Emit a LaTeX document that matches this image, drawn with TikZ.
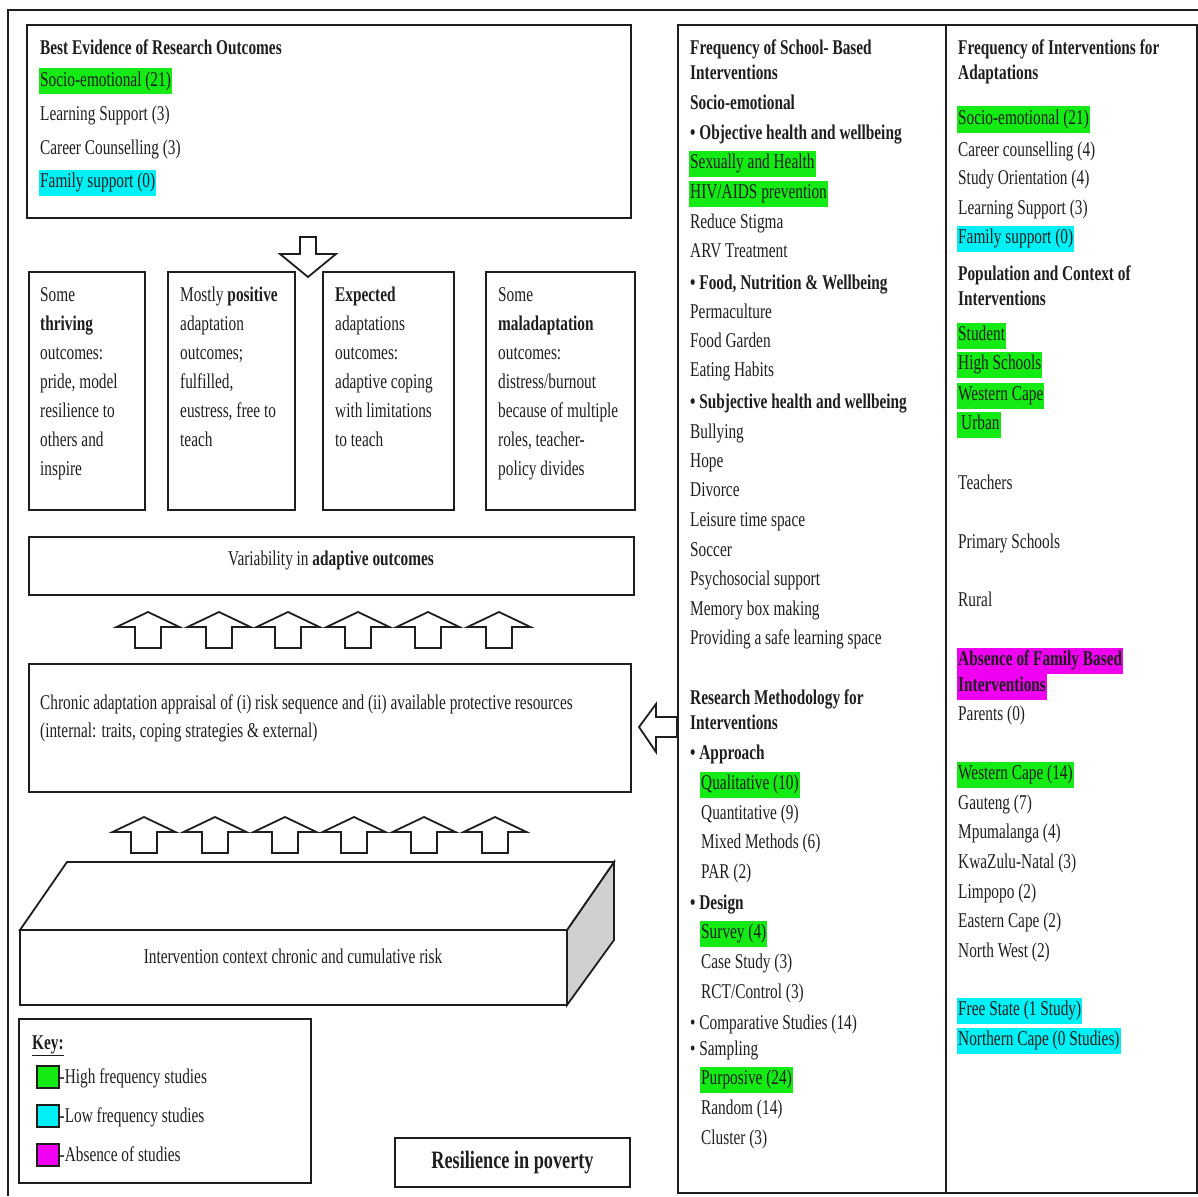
\documentclass[tikz,border=0pt]{standalone}
\usepackage{fontspec}
\setmainfont{Liberation Serif}[FakeStretch=0.73]
\usetikzlibrary{fit}
\definecolor{ink}{RGB}{30,30,30}
\definecolor{hgreen}{RGB}{20,235,20}
\definecolor{hcyan}{RGB}{0,240,245}
\definecolor{hmag}{RGB}{240,0,240}
\definecolor{sideface}{RGB}{208,208,208}
\newcommand\bodyfont{\fontsize{21}{29}\selectfont}

\begin{document}
\begin{tikzpicture}[x=1pt,y=-1pt,
  frame/.style={draw=ink, line width=1.8pt, inner sep=0pt},
  txt/.style={anchor=west, inner sep=0pt, text height=15pt, text depth=5pt, font=\bodyfont, text=ink, yshift=-1.5pt},
  hl/.style={txt, inner xsep=1pt, inner ysep=3pt},
  hg/.style={hl, fill=hgreen},
  hc/.style={hl, fill=hcyan},
  hm/.style={hl, fill=hmag},
  ctr/.style={txt, anchor=center},
  blockarrow/.style={draw=ink, line width=1.8pt, fill=white, line join=miter},
  uparrow/.pic={\path[blockarrow] (-13,36) -- (-13,15) -- (-31.5,15) -- (0,0) -- (31.5,15) -- (13,15) -- (13,36) -- cycle;},
  keysq/.style={draw=ink, line width=1.5pt, minimum size=22pt, inner sep=0pt, anchor=north west},
]
\useasboundingbox (0,0) rectangle (1198,1196);

% outer frame
\draw[ink, line width=1.8pt] (8,1196) -- (8,10) -- (1198,10);

% ---------- left side: model ----------
\node[frame, fit={(27,25) (631,218)}] (best) {};
\node[txt] (bestT) at (40,48) {\textbf{Best Evidence of Research Outcomes}};
\node[hg] (best1) at (39,80) {Socio-emotional (21)};
\node[txt] (best2) at (40,114) {Learning Support (3)};
\node[txt] (best3) at (40,148) {Career Counselling (3)};
\node[hc] (best4) at (39,181) {Family support (0)};

% outcome boxes
\node[frame, fit={(29,272) (145,510)}] (o1) {};
\node[frame, fit={(168,272) (295,510)}] (o2) {};
\node[frame, fit={(323,272) (454,510)}] (o3) {};
\node[frame, fit={(486,272) (635,510)}] (o4) {};

\foreach \t [count=\i] in {Some, \textbf{thriving}, outcomes:, {pride, model}, resilience to, others and, inspire}
  \node[txt] (oa\i) at (40,{295+29*(\i-1)}) {\t};
\foreach \t [count=\i] in {Mostly \textbf{positive}, adaptation, outcomes;, {fulfilled,}, {eustress, free to}, teach}
  \node[txt] (ob\i) at (180,{295+29*(\i-1)}) {\t};
\foreach \t [count=\i] in {\textbf{Expected}, adaptations, outcomes:, adaptive coping, with limitations, to teach}
  \node[txt] (oc\i) at (335,{295+29*(\i-1)}) {\t};
\foreach \t [count=\i] in {Some, \textbf{maladaptation}, outcomes:, distress/burnout, because of multiple, {roles, teacher-}, policy divides}
  \node[txt] (od\i) at (498,{295+29*(\i-1)}) {\t};

% arrow from evidence down to outcomes
\path[blockarrow] (300,237) -- (300,254) -- (280,254) -- (308,277) -- (336,254) -- (316,254) -- (316,237) -- cycle;

\node[frame, fit={(29,537) (634,595)}] (var) {};
\node[ctr] (varT) at (331,559) {Variability in \textbf{adaptive outcomes}};

% arrows into outcomes
\foreach \cx in {148,219,288,358,428,499}
  \pic at (\cx,612) {uparrow};

\node[frame, fit={(29,664) (631,792)}] (chronic) {};
\node[txt] (chr1) at (40,703) {Chronic adaptation appraisal of (i) risk sequence and (ii) available protective resources};
\node[txt] (chr2) at (40,731) {(internal: traits, coping strategies \& external)};

% arrows into appraisal
\foreach \cx in {144,215,285,354,424,495}
  \pic at (\cx,817) {uparrow};

% risk slab
\draw[ink, line width=1.8pt, fill=sideface, line join=miter] (567,930) -- (614,862) -- (614,940) -- (567,1005) -- cycle;
\draw[ink, line width=1.8pt, fill=white, line join=miter] (20,930) -- (67,862) -- (614,862) -- (567,930) -- cycle;
\node[frame, fit={(20,930) (567,1005)}] (risk) {};
\node[ctr] (riskT) at (293,957) {Intervention context chronic and cumulative risk};

% arrow from the evidence table into appraisal
\path[blockarrow] (677,717) -- (656,717) -- (656,704) -- (639,727) -- (656,752) -- (656,737) -- (677,737) -- cycle;

% key
\node[frame, fit={(19,1019) (311,1183)}] (key) {};
\node[txt] (keyT) at (32,1043) {\textbf{\underline{Key:}}};
\node[keysq, fill=hgreen] (kg) at (36,1065) {};
\node[txt] (kgT) at (kg.east) {-High frequency studies};
\node[keysq, fill=hcyan] (kc) at (36,1104) {};
\node[txt] (kcT) at (kc.east) {-Low frequency studies};
\node[keysq, fill=hmag] (km) at (36,1143) {};
\node[txt] (kmT) at (km.east) {-Absence of studies};

\node[frame, fit={(395,1138) (630,1187)}] (res) {};
\node[anchor=center, inner sep=0pt, text=ink, font=\fontsize{25}{30}\selectfont\bfseries] (resT) at (res.center) {Resilience in poverty};

% ---------- right side: evidence table ----------
\node[frame, fit={(678,25) (1197,1193)}] (table) {};
\draw[ink, line width=1.8pt] (946,25) -- (946,1193);

% column 1
\node[txt] (a1) at (690,48) {\textbf{Frequency of School- Based}};
\node[txt] (a2) at (690,73) {\textbf{Interventions}};
\node[txt] (a3) at (690,103) {\textbf{Socio-emotional}};
\node[txt] (a4) at (690,133) {\textbf{• Objective health and wellbeing}};
\node[hg] (a5) at (689,162) {Sexually and Health};
\node[hg] (a6) at (689,192) {HIV/AIDS prevention};
\node[txt] (a7) at (690,222) {Reduce Stigma};
\node[txt] (a8) at (690,251) {ARV Treatment};
\node[txt] (a9) at (690,283) {\textbf{• Food, Nutrition \& Wellbeing}};
\node[txt] (a10) at (690,312) {Permaculture};
\node[txt] (a11) at (690,341) {Food Garden};
\node[txt] (a12) at (690,370) {Eating Habits};
\node[txt] (a13) at (690,402) {\textbf{• Subjective health and wellbeing}};
\node[txt] (a14) at (690,432) {Bullying};
\node[txt] (a15) at (690,461) {Hope};
\node[txt] (a16) at (690,490) {Divorce};
\node[txt] (a17) at (690,520) {Leisure time space};
\node[txt] (a18) at (690,550) {Soccer};
\node[txt] (a19) at (690,579) {Psychosocial support};
\node[txt] (a20) at (690,609) {Memory box making};
\node[txt] (a21) at (690,638) {Providing a safe learning space};
\node[txt] (a22) at (690,698) {\textbf{Research Methodology for}};
\node[txt] (a23) at (690,723) {\textbf{Interventions}};
\node[txt] (a24) at (690,753) {\textbf{• Approach}};
\node[hg] (a25) at (700,783) {Qualitative (10)};
\node[txt] (a26) at (701,813) {Quantitative (9)};
\node[txt] (a27) at (701,842) {Mixed Methods (6)};
\node[txt] (a28) at (701,872) {PAR (2)};
\node[txt] (a29) at (690,903) {\textbf{• Design}};
\node[hg] (a30) at (700,932) {Survey (4)};
\node[txt] (a31) at (701,962) {Case Study (3)};
\node[txt] (a32) at (701,992) {RCT/Control (3)};
\node[txt] (a33) at (690,1023) {• Comparative Studies (14)};
\node[txt] (a34) at (690,1049) {• Sampling};
\node[hg] (a35) at (700,1078) {Purposive (24)};
\node[txt] (a36) at (701,1108) {Random (14)};
\node[txt] (a37) at (701,1138) {Cluster (3)};

% column 2
\node[txt] (b1) at (958,48) {\textbf{Frequency of Interventions for}};
\node[txt] (b2) at (958,73) {\textbf{Adaptations}};
\node[hg] (b3) at (957,118) {Socio-emotional (21)};
\node[txt] (b4) at (958,150) {Career counselling (4)};
\node[txt] (b5) at (958,178) {Study Orientation (4)};
\node[txt] (b6) at (958,208) {Learning Support (3)};
\node[hc] (b7) at (957,237) {Family support (0)};
\node[txt] (b8) at (958,274) {\textbf{Population and Context of}};
\node[txt] (b9) at (958,299) {\textbf{Interventions}};
\node[hg] (b10) at (957,334) {Student};
\node[hg] (b11) at (957,363) {High Schools};
\node[hg] (b12) at (957,394) {Western Cape};
\node[hg] (b13) at (957,423) {\hspace{3pt}Urban};
\node[txt] (b14) at (958,483) {Teachers};
\node[txt] (b15) at (958,542) {Primary Schools};
\node[txt] (b16) at (958,600) {Rural};
\node[hm] (b17) at (957,659) {\textbf{Absence of Family Based}};
\node[hm] (b18) at (957,685) {\textbf{Interventions}};
\node[txt] (b19) at (958,714) {Parents (0)};
\node[hg] (b20) at (957,773) {Western Cape (14)};
\node[txt] (b21) at (958,803) {Gauteng (7)};
\node[txt] (b22) at (958,832) {Mpumalanga (4)};
\node[txt] (b23) at (958,862) {KwaZulu-Natal (3)};
\node[txt] (b24) at (958,892) {Limpopo (2)};
\node[txt] (b25) at (958,921) {Eastern Cape (2)};
\node[txt] (b26) at (958,951) {North West (2)};
\node[hc] (b27) at (957,1009) {Free State (1 Study)};
\node[hc] (b28) at (957,1039) {Northern Cape (0 Studies)};
\end{tikzpicture}
\end{document}
